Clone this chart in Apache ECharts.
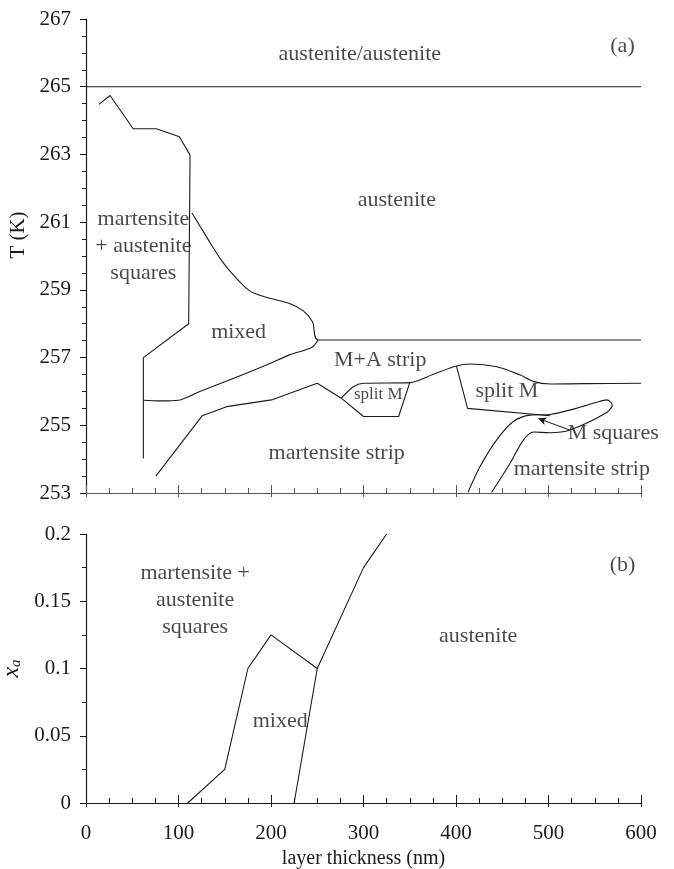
<!DOCTYPE html>
<html><head><meta charset="utf-8">
<script src="https://cdn.jsdelivr.net/npm/echarts@6/dist/echarts.min.js"></script>
<style>html,body{margin:0;padding:0;background:#fff}#c{width:674px;height:869px}</style>
</head><body><div id="c"></div>
<script>
// ---- Panel (a): T (K) vs layer thickness (nm) ----
var aaLine = [[0,265],[600,265]];
var squaresTop = [[14,264.48],[26,264.74],[51,263.76],[76,263.76],[101,263.52],[112.5,262.98],[111,258.0],[62,257.0],[62,254.02]];
var mixedUpper = [[114.5,261.27],[124,260.85],[134,260.4],[147,259.85],[159,259.45],[177,258.97],[195,258.78],[220,258.6],[235,258.38],[245,258.05],[251,257.52],[600,257.52]];
var mixedLower = [[251,257.52],[244,257.3],[220,257.08],[195,256.78],[159,256.38],[123,256.0],[100,255.74],[80,255.72],[62,255.74]];
var stripUpper = [[75.5,253.5],[125.5,255.28],[152,255.55],[200.5,255.75],[250,256.24],[276,255.8]];
var splitSmallLower = [[276,255.8],[300,255.26],[338,255.26],[350,256.26]];
var maLower = [[276,255.8],[289,256.14],[300,256.24],[350,256.26],[375,256.5],[400.5,256.75],[415,256.81],[444,256.73],[469,256.49],[484,256.29],[502,256.22],[540,256.23],[600,256.24]];
var splitBig = [[400.5,256.75],[412.5,255.5],[501.5,255.28]];
var squaresLoop = [[413,253.02],[426,253.78],[444,254.57],[462,255.11],[480,255.3],[501.5,255.32],[530,255.5],[552,255.68],[563,255.75],[569,255.6],[563,255.38],[523,254.86],[501.5,254.78],[484,254.8],[473,254.57],[458.5,253.88],[438.5,253.02]];
var arrowFrom = [523,254.86];
var arrowTo = [489,255.2];
var labelsA = [
  {t:'austenite/austenite', x:296, y:265.95, s:22},
  {t:'(a)', x:580, y:266.2, s:22},
  {t:'austenite', x:336, y:261.65, s:22},
  {t:'martensite\n+ austenite\nsquares', x:62, y:260.3, s:22},
  {t:'mixed', x:165, y:257.76, s:22},
  {t:'M+A strip', x:318, y:256.93, s:22},
  {t:'split M', x:316, y:255.92, s:17},
  {t:'split M', x:455, y:256.0, s:22},
  {t:'martensite strip', x:271, y:254.18, s:22},
  {t:'martensite strip', x:536, y:253.71, s:22},
  {t:'M squares', x:570, y:254.77, s:22}
];
// ---- Panel (b): x_a vs layer thickness (nm) ----
var bLeft = [[110,0],[150,0.025],[175,0.1],[200,0.125],[250,0.1],[300,0.175],[325,0.2]];
var bRight = [[225,0],[250,0.1]];
var labelsB = [
  {t:'martensite +\naustenite\nsquares', x:118, y:0.151, s:22},
  {t:'mixed', x:210, y:0.061, s:22},
  {t:'austenite', x:424, y:0.124, s:22},
  {t:'(b)', x:580, y:0.177, s:22}
];
var yTicksA = {min:253, max:267, step:2};
var yTicksB = {min:0, max:0.2, step:0.05};
var xTicks = {min:0, max:600, step:100};

var FONT = '"Liberation Serif","DejaVu Serif",serif';
var INK = '#1a1a1a';
function lineSeries(data, xi, yi, smooth){
  return {type:'line', data:data, xAxisIndex:xi, yAxisIndex:yi, symbol:'none', smooth:smooth||false,
    lineStyle:{color:INK, width:1.1}, silent:true, z:3};
}
function labelSeries(list, xi, yi){
  return {type:'scatter', xAxisIndex:xi, yAxisIndex:yi, symbolSize:1, itemStyle:{color:'rgba(0,0,0,0)'}, silent:true, z:5,
    data: list.map(function(l){return {value:[l.x,l.y], name:l.t, label:{fontSize:l.s}};}),
    label:{show:true, position:'inside', formatter:'{b}', color:INK, fontFamily:FONT, fontSize:22, lineHeight:27, align:'center', verticalAlign:'middle'}};
}
function xMain(gi, showLabels, lineColor){
  return {type:'value', gridIndex:gi, min:xTicks.min, max:xTicks.max, interval:xTicks.step, position:'bottom',
    axisLine:{show:true, onZero:false, lineStyle:{color:lineColor, width:1.2}},
    axisTick:{show:true, inside:true, length:8, lineStyle:{color:lineColor}},
    minorTick:{show:true, splitNumber:4, length:5, lineStyle:{color:lineColor}},
    axisLabel:{show:showLabels, color:INK, fontFamily:FONT, fontSize:21, margin:20},
    splitLine:{show:false}, minorSplitLine:{show:false},
    name: showLabels ? 'layer thickness (nm)' : '', nameLocation:'middle', nameGap:46,
    nameTextStyle:{color:INK, fontFamily:FONT, fontSize:20}};
}
function xOuter(gi, lineColor){
  return {type:'value', gridIndex:gi, min:xTicks.min, max:xTicks.max, interval:xTicks.step, position:'bottom',
    axisLine:{show:false, onZero:false}, axisTick:{show:true, inside:false, length:4, lineStyle:{color:lineColor}},
    axisLabel:{show:false}, splitLine:{show:false}};
}
function yAxisDef(gi, t, minorSplit, name, nameGap, nameStyle){
  return {type:'value', gridIndex:gi, min:t.min, max:t.max, interval:t.step,
    axisLine:{show:true, onZero:false, lineStyle:{color:INK, width:1.2}},
    axisTick:{show:true, inside:false, length:6, lineStyle:{color:INK}},
    minorTick:{show:true, splitNumber:minorSplit, length:4, lineStyle:{color:INK}},
    axisLabel:{color:INK, fontFamily:FONT, fontSize:21, margin:15},
    splitLine:{show:false}, minorSplitLine:{show:false},
    name:name, nameLocation:'middle', nameGap:nameGap, nameRotate:90,
    nameTextStyle:nameStyle};
}
var chart = echarts.init(document.getElementById('c'), null, {renderer:'canvas'});
var arrowSeries = lineSeries([arrowFrom], 0, 0);
arrowSeries.markLine = {silent:true, symbol:['none','arrow'], symbolSize:[6,8],
  lineStyle:{color:INK, width:1, type:'solid'}, label:{show:false},
  data:[[{coord:arrowFrom},{coord:arrowTo}]]};
chart.setOption({
  animation:false,
  backgroundColor:'#fff',
  grid:[
    {left:86, right:33, top:19, height:474, containLabel:false, outerBoundsMode:'none'},
    {left:86, right:33, top:534, height:269, containLabel:false, outerBoundsMode:'none'}
  ],
  xAxis:[xMain(0,false,'#555'), xOuter(0,'#555'), xMain(1,true,INK), xOuter(1,INK)],
  yAxis:[
    yAxisDef(0, yTicksA, 4, 'T (K)', 55, {color:INK, fontFamily:FONT, fontSize:21, padding:[0,0,0,42]}),
    yAxisDef(1, yTicksB, 2, '{x|x}{a|a}', 57, {color:INK, fontFamily:FONT, fontSize:21,
      rich:{x:{fontFamily:FONT, fontStyle:'italic', fontSize:24, color:INK}, a:{fontFamily:FONT, fontStyle:'italic', fontSize:15, color:INK, verticalAlign:'bottom', padding:[8,0,0,0]}}})
  ],
  series:[
    lineSeries(aaLine,0,0),
    lineSeries(squaresTop,0,0),
    lineSeries(mixedUpper,0,0,0.3),
    lineSeries(mixedLower,0,0,0.3),
    lineSeries(stripUpper,0,0),
    lineSeries(splitSmallLower,0,0),
    lineSeries(maLower,0,0,0.3),
    lineSeries(splitBig,0,0),
    lineSeries(squaresLoop,0,0,0.3),
    arrowSeries,
    labelSeries(labelsA,0,0),
    lineSeries(bLeft,2,1),
    lineSeries(bRight,2,1),
    labelSeries(labelsB,2,1)
  ]
});
</script></body></html>
